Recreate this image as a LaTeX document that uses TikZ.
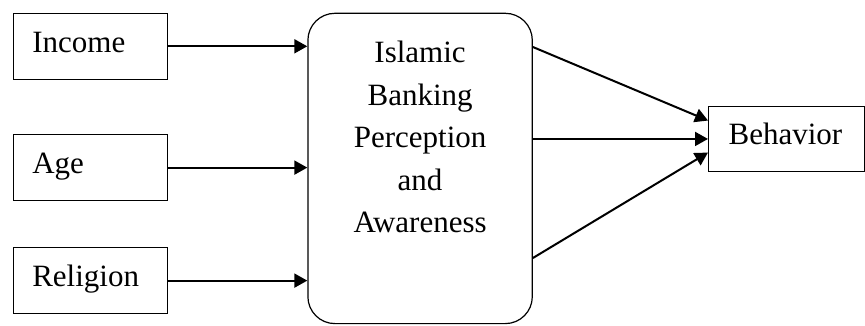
\documentclass[tikz,border=0pt]{standalone}
\usepackage{fontspec}
\setmainfont{Liberation Serif}
\usetikzlibrary{arrows.meta,calc}
\begin{document}
\begin{tikzpicture}[x=1pt,y=-1pt,
  every node/.style={font=\fontsize{31}{42.5}\selectfont},
  varbox/.style={draw, line width=1.2pt, anchor=north west, inner xsep=19pt, inner ysep=0pt,
    text width=116pt, align=left, minimum height=66pt, text height=21pt, text depth=9pt},
  centbox/.style={draw, line width=1.2pt, rounded corners=27pt, anchor=north west, inner sep=0pt},
  arr/.style={line width=2pt, -{Triangle[length=13pt,width=14pt]}}
]
\useasboundingbox (0,0) rectangle (865,325);
\node[varbox] (inc) at (12.7,12.7) {Income};
\node[varbox] (age) at (12.7,134) {Age};
\node[varbox] (rel) at (12.7,247) {Religion};
\node[centbox, minimum width=224.4pt, minimum height=310.3pt] (pa) at (307.3,12.7) {};
\node[align=center, anchor=north, inner sep=0pt] (pat) at ($(pa.north)+(0,28.1)$)
  {Islamic\\Banking\\Perception\\and\\Awareness};
\node[varbox, inner xsep=20pt, text width=115.5pt, minimum height=65.3pt] (beh) at (708,105.7) {Behavior};
\draw[arr] (inc.east) -- (inc.east -| pa.west);
\draw[arr] (age.east) -- (age.east -| pa.west);
\draw[arr] (rel.east) -- (rel.east -| pa.west);
\coordinate (o1) at ($(pa.north east)+(0,34.3)$);
\coordinate (o3) at ($(pa.north east)+(0,245.3)$);
\coordinate (t1) at ($(beh.west)+(0,-18.4)$);
\coordinate (t3) at ($(beh.west)+(0,13.6)$);
\draw[arr] (o1) -- (t1);
\draw[arr] (pa.east |- beh.west) -- (beh.west);
\draw[arr] (o3) -- (t3);
\end{tikzpicture}
\end{document}
